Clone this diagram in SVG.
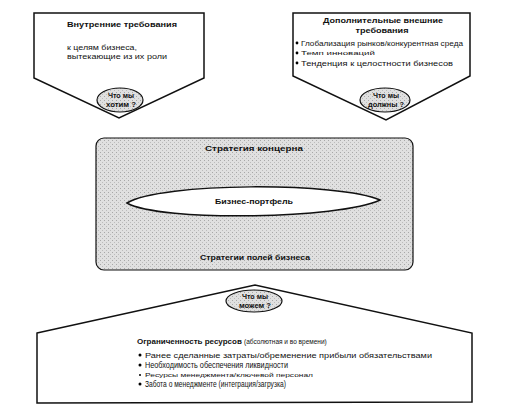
<svg xmlns="http://www.w3.org/2000/svg" width="513" height="417" viewBox="0 0 513 417">
<defs>
<pattern id="stip" width="4" height="4" patternUnits="userSpaceOnUse">
<rect width="4" height="4" fill="#e0e0e0"/>
<rect x="0" y="0" width="1" height="1" fill="#a8a8a8"/>
<rect x="2" y="2" width="1" height="1" fill="#bcbcbc"/>
</pattern>
</defs>
<style>
.shape{fill:#fff;stroke:#111;stroke-width:1.5}
.grey{fill:url(#stip);stroke:#111;stroke-width:1.2}
text{font-family:"Liberation Sans","DejaVu Sans",sans-serif;fill:#111}
.b{font-weight:bold}
.t{font-size:8px}
.s{font-size:6px}
.q{font-size:7px;font-weight:bold;text-anchor:middle}
.m{text-anchor:middle}
</style>
<rect width="513" height="417" fill="#fff"/>
<g id="internal">
<path class="shape" d="M34,13 L204,13 L204,78 L119,118 L34,78 Z"/>
<text class="t b" x="67" y="27" textLength="110" lengthAdjust="spacingAndGlyphs">Внутренние требования</text>
<text class="t" x="67" y="50" textLength="70" lengthAdjust="spacingAndGlyphs">к целям бизнеса,</text>
<text class="t" x="67" y="59" textLength="100" lengthAdjust="spacingAndGlyphs">вытекающие из их роли</text>
<ellipse class="grey" cx="120" cy="100" rx="23" ry="12"/>
<text class="q" x="121" y="98" textLength="26" lengthAdjust="spacingAndGlyphs">Что мы</text>
<text class="q" x="121" y="107" textLength="30" lengthAdjust="spacingAndGlyphs">хотим ?</text>
</g>
<g id="external">
<path class="shape" d="M293,13 L470,13 L470,76 L386,120 L293,76 Z"/>
<text class="t b m" x="383" y="23" textLength="120" lengthAdjust="spacingAndGlyphs">Дополнительные внешние</text>
<text class="t b m" x="382" y="33" textLength="53" lengthAdjust="spacingAndGlyphs">требования</text>
<circle cx="297" cy="43" r="1.4"/>
<text class="t" x="301" y="45.5" textLength="162" lengthAdjust="spacingAndGlyphs">Глобализация рынков/конкурентная среда</text>
<circle cx="297" cy="53" r="1.4"/>
<text class="s" x="301" y="55" textLength="74" lengthAdjust="spacingAndGlyphs">Темп инноваций</text>
<circle cx="297" cy="63" r="1.4"/>
<text class="t" x="301" y="65.5" textLength="152" lengthAdjust="spacingAndGlyphs">Тенденция к целостности бизнесов</text>
<ellipse class="grey" cx="385" cy="100" rx="25" ry="12"/>
<text class="q" x="386" y="98" textLength="26" lengthAdjust="spacingAndGlyphs">Что мы</text>
<text class="q" x="386" y="107" textLength="36" lengthAdjust="spacingAndGlyphs">должны ?</text>
</g>
<g id="strategy">
<rect class="grey" x="96" y="138" width="317" height="132" rx="8" ry="8"/>
<text class="t b m" x="254" y="151" textLength="98" lengthAdjust="spacingAndGlyphs">Стратегия   концерна</text>
<text class="t b m" x="255" y="260" textLength="110" lengthAdjust="spacingAndGlyphs">Стратегии полей бизнеса</text>
</g>
<g id="portfolio">
<path class="shape" d="M127,203 C160,182 340,182 380,200 C340,219 160,222 127,203 Z"/>
<text class="t b m" x="254" y="204" textLength="78" lengthAdjust="spacingAndGlyphs">Бизнес-портфель</text>
</g>
<g id="resources">
<path class="shape" d="M37,333 L255,285 L472,333 L472,402 L37,403 Z"/>
<text class="t" x="137" y="344"><tspan class="b">Ограниченность ресурсов</tspan> <tspan font-size="6.5">(абсолютная и во времени)</tspan></text>
<circle cx="140" cy="355" r="1.5"/>
<text class="t" x="145" y="358" textLength="287" lengthAdjust="spacingAndGlyphs">Ранее сделанные затраты/обременение прибыли обязательствами</text>
<circle cx="140" cy="365" r="1.5"/>
<text x="145" y="368" font-size="9" textLength="143" lengthAdjust="spacingAndGlyphs">Необходимость обеспечения ликвидности</text>
<circle cx="140" cy="375" r="1"/>
<text class="s" x="145" y="377" textLength="168" lengthAdjust="spacingAndGlyphs">Ресурсы менеджмента/ключевой персонал</text>
<circle cx="140" cy="384" r="1.5"/>
<text x="145" y="387" font-size="9" textLength="141" lengthAdjust="spacingAndGlyphs">Забота о менеджменте (интеграция/загрузка)</text>
<ellipse class="grey" cx="254" cy="301" rx="28" ry="11"/>
<text class="q" x="255" y="299" textLength="26" lengthAdjust="spacingAndGlyphs">Что мы</text>
<text class="q" x="255" y="308" textLength="32" lengthAdjust="spacingAndGlyphs">можем ?</text>
</g>
<g id="connectors"></g>
</svg>
